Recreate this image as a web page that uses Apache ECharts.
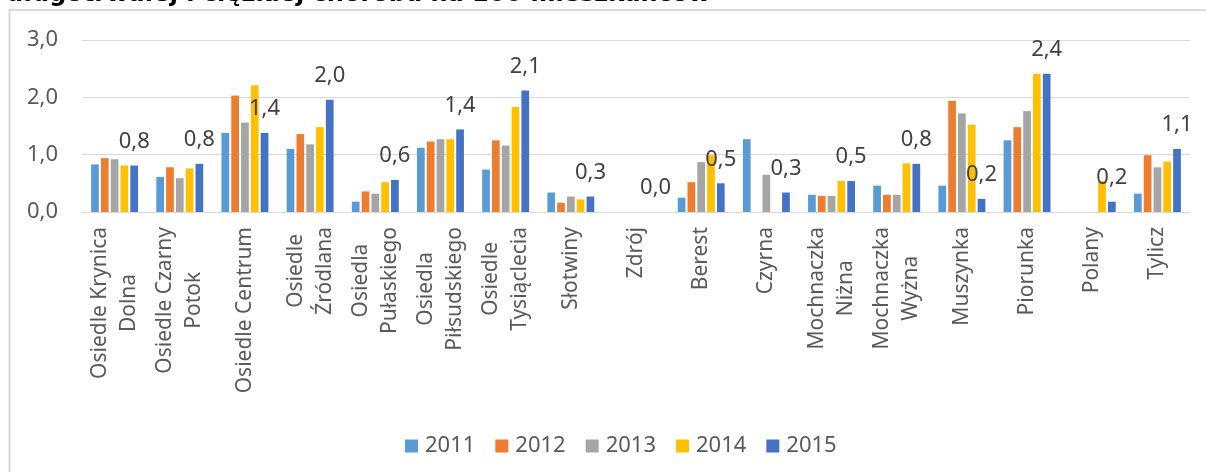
<!DOCTYPE html>
<html>
<head>
<meta charset="utf-8">
<script src="https://cdn.jsdelivr.net/npm/echarts@6/dist/echarts.min.js"></script>
<style>
  html, body { margin: 0; padding: 0; background: #ffffff; }
  #chart { width: 1206px; height: 472px; }
</style>
</head>
<body>
<div id="chart"></div>
<script>
// Osiedla i sołectwa (podpisy osi X, z podziałem na linie)
const categories = [
  'Osiedle Krynica\nDolna', 'Osiedle Czarny\nPotok', 'Osiedle Centrum', 'Osiedle\nŹródlana',
  'Osiedla\nPułaskiego', 'Osiedla\nPiłsudskiego', 'Osiedle\nTysiąclecia', 'Słotwiny',
  'Zdrój', 'Berest', 'Czyrna', 'Mochnaczka\nNiżna', 'Mochnaczka\nWyżna',
  'Muszynka', 'Piorunka', 'Polany', 'Tylicz'
];

const years = ['2011', '2012', '2013', '2014', '2015'];

// Liczba osób na 100 mieszkańców, wg lat
const y2011 = [0.83, 0.61, 1.38, 1.10, 0.18, 1.12, 0.74, 0.34, null, 0.25, 1.27, 0.30, 0.46, 0.46, 1.25, null, 0.32];
const y2012 = [0.94, 0.78, 2.03, 1.36, 0.36, 1.23, 1.25, 0.16, null, 0.52, null, 0.28, 0.30, 1.94, 1.48, null, 0.99];
const y2013 = [0.92, 0.59, 1.56, 1.18, 0.32, 1.27, 1.16, 0.27, null, 0.87, 0.65, 0.28, 0.30, 1.72, 1.76, null, 0.78];
const y2014 = [0.81, 0.76, 2.21, 1.48, 0.52, 1.27, 1.83, 0.22, null, 0.99, null, 0.54, 0.85, 1.52, 2.41, 0.54, 0.88];
const y2015 = [0.81, 0.84, 1.38, 1.96, 0.56, 1.44, 2.12, 0.27, 0.00, 0.50, 0.34, 0.54, 0.84, 0.23, 2.41, 0.18, 1.10];

const yTicks = [0, 1, 2, 3];

const titleText = 'długotrwałej i ciężkiej choroba na 100 mieszkańców';

const colors = ['#5B9BD5', '#ED7D31', '#A5A5A5', '#FFC000', '#4472C4'];
const seriesValues = [y2011, y2012, y2013, y2014, y2015];

const FONT = '"Noto Sans", "Open Sans", sans-serif';
const comma = v => Number(v).toFixed(1).replace('.', ',');

const series = years.map((name, i) => {
  const s = {
    name: name,
    type: 'bar',
    data: seriesValues[i],
    barGap: '27%',
    barCategoryGap: '28%',
    itemStyle: { color: colors[i] }
  };
  if (i === years.length - 1) {
    s.label = {
      show: true,
      position: 'top',
      distance: 13,
      formatter: p => comma(p.value),
      fontFamily: FONT,
      fontSize: 22,
      lineHeight: 22,
      color: '#404040'
    };
  }
  return s;
});

const chart = echarts.init(document.getElementById('chart'), null, { renderer: 'canvas' });

chart.setOption({
  animation: false,
  backgroundColor: '#ffffff',
  color: colors,
  title: {
    text: titleText,
    left: 6,
    top: -17,
    padding: 0,
    textStyle: {
      fontFamily: '"DejaVu Sans", Verdana, sans-serif',
      fontWeight: 'bold',
      fontSize: 24,
      lineHeight: 24,
      color: '#000000'
    }
  },
  graphic: [{
    type: 'rect',
    silent: true,
    z: -1,
    shape: { x: 9.5, y: 10, width: 1400, height: 700 },
    style: { fill: null, stroke: '#D9D9D9', lineWidth: 2 }
  }],
  legend: {
    left: 400,
    top: 430,
    itemWidth: 13,
    itemHeight: 13,
    itemGap: 20,
    icon: 'rect',
    data: years,
    textStyle: {
      fontFamily: FONT,
      fontSize: 22,
      color: '#595959',
      padding: [0, 0, 0, 2]
    }
  },
  grid: {
    left: 82,
    right: 16,
    top: 40,
    bottom: 260,
    containLabel: false
  },
  xAxis: {
    type: 'category',
    data: categories,
    axisTick: { show: false },
    axisLine: { lineStyle: { color: '#D9D9D9', width: 1 } },
    axisLabel: {
      interval: 0,
      rotate: 90,
      margin: 15,
      color: '#595959',
      fontFamily: FONT,
      fontSize: 21,
      formatter: v => v.split('\n').map(l => '{c|' + l + '}').join('\n'),
      rich: {
        c: {
          align: 'center',
          fontFamily: FONT,
          fontSize: 21,
          lineHeight: 29,
          color: '#595959'
        }
      }
    }
  },
  yAxis: {
    type: 'value',
    min: yTicks[0],
    max: yTicks[yTicks.length - 1],
    interval: 1,
    axisLine: { show: false },
    axisTick: { show: false },
    splitLine: { lineStyle: { color: '#D9D9D9', width: 1 } },
    axisLabel: {
      margin: 24,
      color: '#595959',
      fontFamily: FONT,
      fontSize: 22,
      formatter: v => comma(v)
    }
  },
  series: series
});
</script>
</body>
</html>
